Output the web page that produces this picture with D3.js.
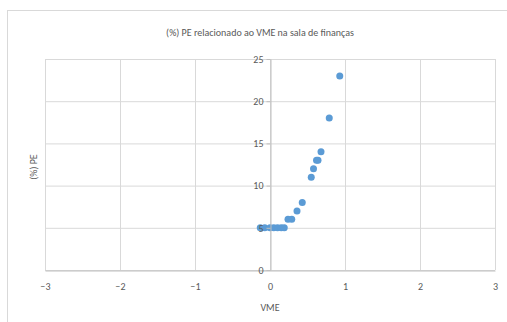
<!DOCTYPE html>
<html lang="pt">
<head>
<meta charset="UTF-8">
<script src="https://d3js.org/d3.v7.min.js"></script>
<style>
    body { margin: 0; background: white; }
    text { font-family: Carlito, Lato, "Liberation Sans", sans-serif; fill: #595959; }
</style>
</head>
<body>
<div id="chart"></div>
<script>
    // values
    var vme = [-0.13, -0.07, 0, 0.05, 0.1, 0.15, 0.19, 0.24, 0.29, 0.36, 0.43, 0.55, 0.58, 0.62, 0.64, 0.68, 0.79, 0.93];
    var pe  = [5, 5, 5, 5, 5, 5, 5, 6, 6, 7, 8, 11, 12, 13, 13, 14, 18, 23];
    var xTicks = [-3, -2, -1, 0, 1, 2, 3];
    var yTicks = [0, 5, 10, 15, 20, 25];
    var title = "(%) PE relacionado ao VME na sala de finanças";

    var width = 507, height = 322;
    var svg = d3.select("#chart").append("svg")
        .attr("width", width)
        .attr("height", height);

    // chart frame
    svg.append("rect")
        .attr("x", 7.5).attr("y", 10.5)
        .attr("width", 520).attr("height", 330)
        .attr("fill", "white")
        .attr("stroke", "#d9d9d9");

    var xScale = d3.scaleLinear().domain([-3, 3]).range([45, 495]);
    var yScale = d3.scaleLinear().domain([0, 25]).range([270, 59]);

    // gridlines
    svg.append("g").selectAll("line").data(xTicks).enter().append("line")
        .attr("x1", function(d) { return xScale(d) + 0.5; })
        .attr("x2", function(d) { return xScale(d) + 0.5; })
        .attr("y1", yScale(25)).attr("y2", yScale(0))
        .attr("stroke", "#d9d9d9");
    svg.append("g").selectAll("line").data(yTicks).enter().append("line")
        .attr("x1", xScale(-3)).attr("x2", xScale(3))
        .attr("y1", function(d) { return yScale(d) + 0.5; })
        .attr("y2", function(d) { return yScale(d) + 0.5; })
        .attr("stroke", "#d9d9d9");

    // points
    svg.append("g").selectAll("circle").data(vme).enter().append("circle")
        .attr("cx", function(d) { return xScale(d); })
        .attr("cy", function(d, i) { return yScale(pe[i]); })
        .attr("r", 3.5)
        .attr("fill", "#5b9bd5");

    // axes crossing at 0
    var xAxis = svg.append("g")
        .attr("transform", "translate(0," + (yScale(0) + 0.5) + ")")
        .call(d3.axisBottom(xScale).tickValues(xTicks).tickFormat(d3.format("d")).tickSize(0).tickPadding(12));
    xAxis.select(".domain").attr("stroke", "#bfbfbf");
    xAxis.selectAll("text").style("font-size", "10px");

    var yAxis = svg.append("g")
        .attr("transform", "translate(" + (xScale(0) + 0.5) + ",0)")
        .call(d3.axisLeft(yScale).tickValues(yTicks).tickSize(4).tickSizeOuter(0).tickPadding(3));
    yAxis.select(".domain").attr("stroke", "#bfbfbf");
    yAxis.selectAll(".tick line").attr("stroke", "#bfbfbf");
    yAxis.selectAll("text").style("font-size", "10px");

    // titles
    svg.append("text")
        .attr("x", 260).attr("y", 36)
        .attr("text-anchor", "middle")
        .style("font-size", "10px")
        .text(title);
    svg.append("text")
        .attr("x", 270).attr("y", 311)
        .attr("text-anchor", "middle")
        .style("font-size", "10px")
        .text("VME");
    svg.append("text")
        .attr("transform", "translate(37,167) rotate(-90)")
        .attr("text-anchor", "middle")
        .style("font-size", "10px")
        .text("(%) PE");
</script>
</body>
</html>
